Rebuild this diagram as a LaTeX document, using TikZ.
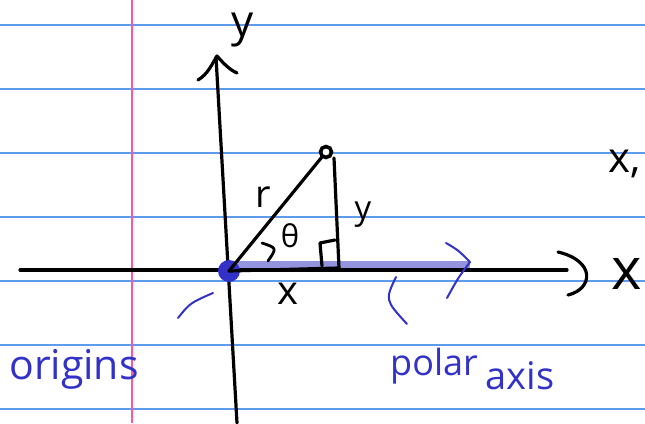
\documentclass[tikz,border=0pt]{standalone}
\usepackage{fontspec}
\setmainfont{Open Sans}
\definecolor{rule}{RGB}{95,155,235}
\definecolor{margin}{RGB}{255,85,165}
\definecolor{ink}{RGB}{50,50,200}
\definecolor{band}{RGB}{148,148,222}
\tikzset{
  ruled/.style={rule, line width=1.4pt},
  pen/.style={black, line width=3.2pt, line cap=round, line join=round},
  bluepen/.style={ink, line width=2pt, line cap=round, line join=round},
  lbl/.style={inner sep=0pt, text=black},
  bluelbl/.style={inner sep=0pt, text=ink},
}
\newcommand{\fs}[1]{\fontsize{#1}{#1}\selectfont}
\begin{document}
\begin{tikzpicture}[x=1pt,y=-1pt]
\useasboundingbox (0,0) rectangle (645,423);
\fill[white] (0,0) rectangle (645,423);
% ruled paper
\foreach \yy in {25,89,153,217,281,345,409}
  \draw[ruled] (0,\yy) -- (645,\yy);
\draw[margin, line width=1.8pt] (132,0) -- (132,423);

% key points
\coordinate (O) at (229,271);
\coordinate (P) at (326,152);
\coordinate (F) at (339,268);
\coordinate (XL) at (20,270);
\coordinate (XR) at (567,270);
\coordinate (YB) at (237,423);
\coordinate (YT) at (216,57);

% polar axis highlight
\fill[band] (230,261) rectangle (470,270);

% axes
\draw[pen] (XL) -- (XR);
\draw[pen] (YB) -- (YT);
\draw[pen] (558,252) .. controls (596,261) and (593,289) .. (568,295);
\draw[pen] (198,80) .. controls (208,74) and (212,64) .. (217,56) .. controls (224,64) and (230,70) .. (237,73);

% origin dot
\node[circle, fill=ink, minimum size=22pt, inner sep=0pt] (Odot) at (O) {};

% triangle
\draw[pen] (O) -- (P);
\draw[pen] (O) -- (F);
\draw[pen] (334,158) -- (F);
\draw[pen] (322,266) -- (320,243) -- (335,240);
\node[circle, draw=black, line width=3.6pt, fill=white, minimum size=11pt, inner sep=0pt] (Pdot) at (P) {};
\draw[pen, line width=2.8pt] (262,243) .. controls (277,248) .. (268,261);

% blue marks
\draw[bluepen] (446,243) .. controls (458,250) .. (470,262) .. controls (458,278) .. (447,298);
\draw[bluepen] (396,277) .. controls (385,300) .. (407,324);
\draw[bluepen] (178,318) .. controls (190,303) .. (213,293);

% labels
\node[lbl, font=\fs{44}] (ylab) at (243,30) {y};
\node[lbl, font=\fs{58}] (xlab) at (627,274) {x};
\node[lbl, font=\fs{42}] (xfar) at (625,164) {x,};
\node[lbl, font=\fs{38}] (rlab) at (263,197) {r};
\node[lbl, font=\fs{31}] (tlab) at (290,236) {θ};
\node[lbl, font=\fs{33}] (ylab2) at (363,215) {y};
\node[lbl, font=\fs{40}] (xlab2) at (288,294) {x};
\node[bluelbl, font=\fs{41}] (orig) at (74,369) {origins};
\node[bluelbl, font=\fs{36}] (polar) at (434,366) {polar};
\node[bluelbl, font=\fs{38}] (axis) at (520,376) {axis};
\end{tikzpicture}
\end{document}
